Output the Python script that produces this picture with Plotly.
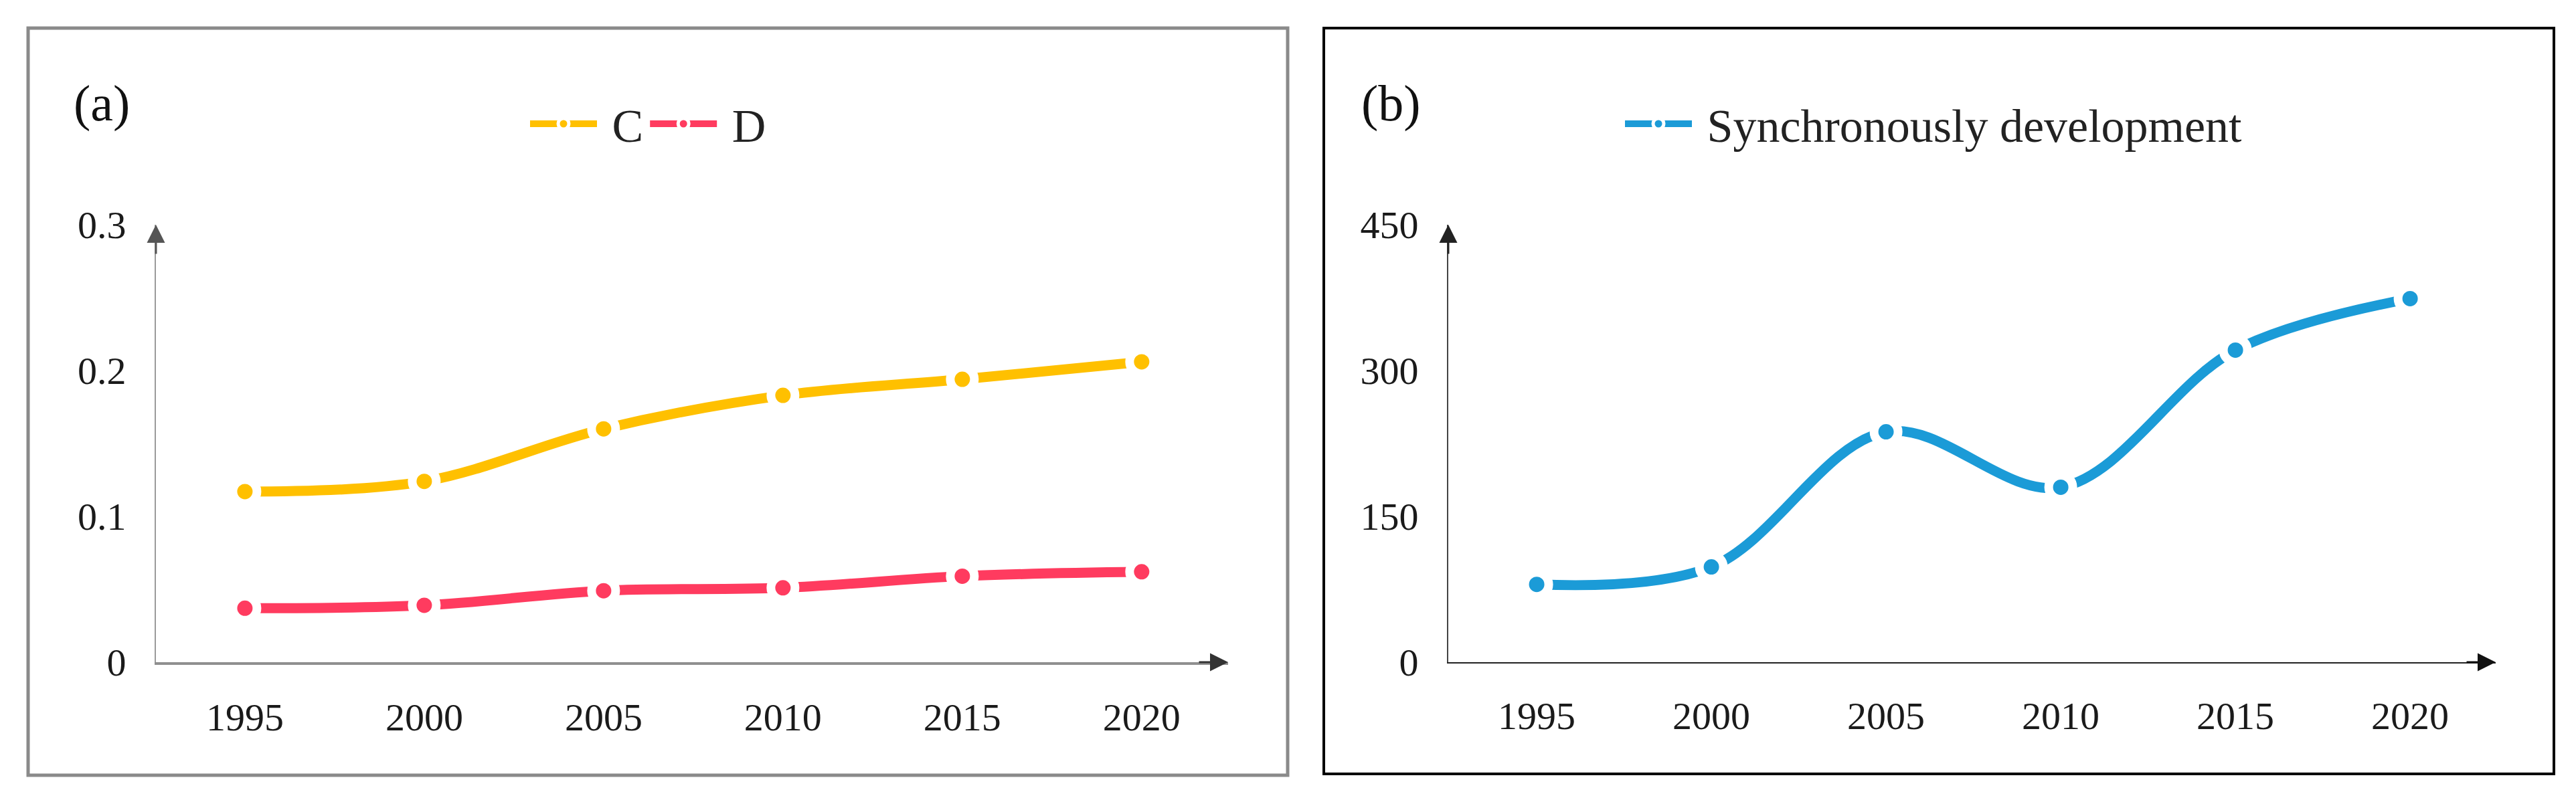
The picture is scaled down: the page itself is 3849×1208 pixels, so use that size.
import plotly.graph_objects as go

# ---- data ----
years = [1995, 2000, 2005, 2010, 2015, 2020]
year_labels = ["1995", "2000", "2005", "2010", "2015", "2020"]
c_values = [0.117, 0.124, 0.160, 0.183, 0.194, 0.206]
d_values = [0.037, 0.039, 0.049, 0.051, 0.059, 0.062]
sync_values = [80, 98, 237, 180, 321, 374]
ya_ticks = [0, 0.1, 0.2, 0.3]
ya_labels = ["0", "0.1", "0.2", "0.3"]
yb_ticks = [0, 150, 300, 450]
yb_labels = ["0", "150", "300", "450"]

W, H = 3849, 1208
OFF = 8  # default page body margin
FONT = "Liberation Serif"
YELLOW = "#FFC000"
PINK = "#FF3B5F"
BLUE = "#1B9BD7"


def px(v):
    return (v - OFF) / W


def py(v):
    return 1 - (v - OFF) / H


fig = go.Figure()

marker_style = dict(size=36, line=dict(color="white", width=13))

fig.add_trace(go.Scatter(
    x=years, y=c_values, name=" C", mode="lines+markers",
    line=dict(color=YELLOW, width=15, shape="spline"),
    marker=dict(color=YELLOW, **marker_style),
    xaxis="x", yaxis="y", legend="legend", cliponaxis=False,
))
fig.add_trace(go.Scatter(
    x=years, y=d_values, name=" D", mode="lines+markers",
    line=dict(color=PINK, width=15, shape="spline"),
    marker=dict(color=PINK, **marker_style),
    xaxis="x", yaxis="y", legend="legend", cliponaxis=False,
))
fig.add_trace(go.Scatter(
    x=years, y=sync_values, name=" Synchronously development", mode="lines+markers",
    line=dict(color=BLUE, width=15, shape="spline"),
    marker=dict(color=BLUE, **marker_style),
    xaxis="x2", yaxis="y2", legend="legend2", cliponaxis=False,
))

tickfont = dict(family=FONT, size=58, color="#1a1a1a")

common_x = dict(tickvals=years, ticktext=year_labels, showgrid=False, zeroline=False,
                showline=True, ticks="", tickfont=tickfont, ticklabelstandoff=28,
                fixedrange=True, automargin=False)
common_y = dict(showgrid=False, zeroline=False, showline=True, ticks="",
                tickfont=tickfont, ticklabelstandoff=31, fixedrange=True, automargin=False)

fig.update_layout(
    width=W, height=H,
    margin=dict(l=0, r=0, t=0, b=0, pad=0, autoexpand=False),
    paper_bgcolor="white", plot_bgcolor="rgba(0,0,0,0)",
    xaxis=dict(domain=[px(233), px(1835)], range=[1992.52, 2022.41], anchor="y",
               linecolor="#8f8f8f", linewidth=4, **common_x),
    yaxis=dict(domain=[py(990), py(336)], range=[0, 0.3], anchor="x",
               tickvals=ya_ticks, ticktext=ya_labels,
               linecolor="#9a9a9a", linewidth=2, **common_y),
    xaxis2=dict(domain=[px(2164), px(3729)], range=[1992.47, 2022.45], anchor="y2",
                linecolor="#222222", linewidth=2, **common_x),
    yaxis2=dict(domain=[py(990), py(336)], range=[0, 450], anchor="x2",
                tickvals=yb_ticks, ticktext=yb_labels,
                linecolor="#444444", linewidth=2, **common_y),
    legend=dict(orientation="h", x=px(787), y=py(185), xanchor="left", yanchor="middle",
                font=dict(family=FONT, size=70, color="#222222"),
                itemwidth=100, bgcolor="rgba(0,0,0,0)", borderwidth=0),
    legend2=dict(orientation="h", x=px(2423), y=py(185), xanchor="left", yanchor="middle",
                 font=dict(family=FONT, size=70, color="#222222"),
                 itemwidth=100, bgcolor="rgba(0,0,0,0)", borderwidth=0),
    showlegend=True,
    shapes=[
        dict(type="rect", xref="paper", yref="paper", x0=px(42), x1=px(1924),
             y0=py(1159), y1=py(42), line=dict(color="#8a8a8a", width=5), layer="below"),
        dict(type="rect", xref="paper", yref="paper", x0=px(1978), x1=px(3816),
             y0=py(1157), y1=py(42), line=dict(color="#000000", width=4), layer="below"),
    ],
)

arrow_common = dict(text="", showarrow=True, arrowhead=2, arrowsize=1.8, arrowwidth=3,
                    standoff=0)
fig.add_annotation(xref="x domain", yref="y domain", x=0, y=1, ax=0, ay=45,
                   arrowcolor="#555555", **arrow_common)
fig.add_annotation(xref="x domain", yref="y domain", x=1, y=0, ax=-45, ay=0,
                   arrowcolor="#333333", **arrow_common)
fig.add_annotation(xref="x2 domain", yref="y2 domain", x=0, y=1, ax=0, ay=45,
                   arrowcolor="#222222", **arrow_common)
fig.add_annotation(xref="x2 domain", yref="y2 domain", x=1, y=0, ax=-45, ay=0,
                   arrowcolor="#111111", **arrow_common)

fig.add_annotation(xref="paper", yref="paper", x=px(152), y=py(154), text="(a)",
                   xanchor="center", yanchor="middle",
                   showarrow=False, font=dict(family=FONT, size=76, color="#111111"))
fig.add_annotation(xref="paper", yref="paper", x=px(2078), y=py(154), text="(b)",
                   xanchor="center", yanchor="middle",
                   showarrow=False, font=dict(family=FONT, size=76, color="#111111"))

fig.write_html("out.html")
